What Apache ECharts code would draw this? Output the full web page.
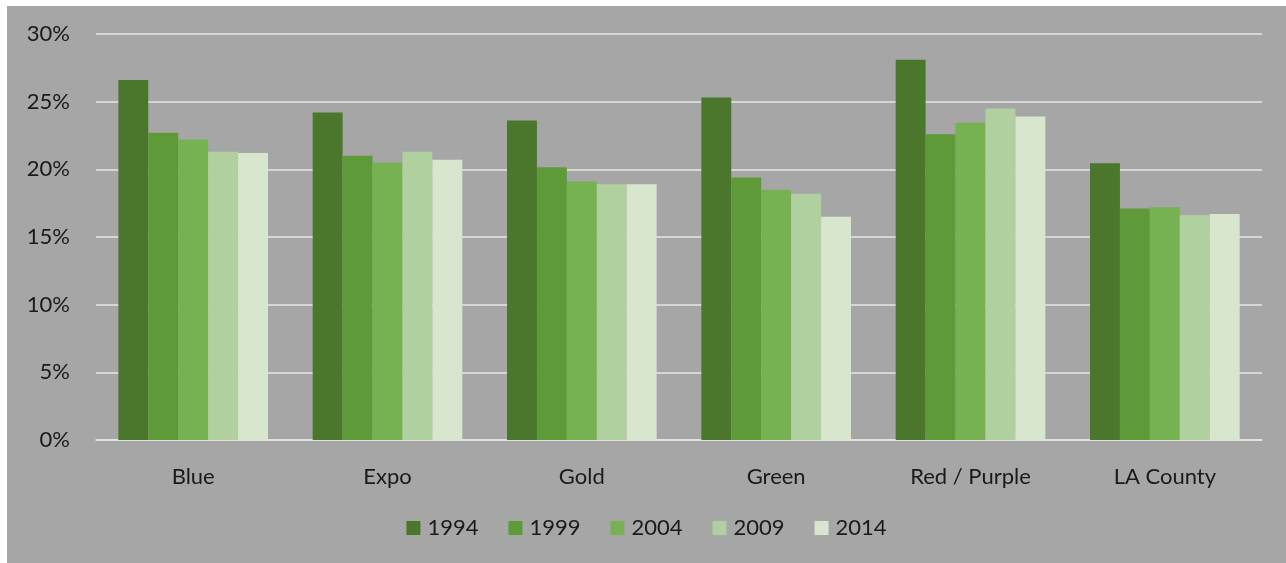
<!DOCTYPE html>
<html>
<head>
<meta charset="utf-8">
<script src="https://cdn.jsdelivr.net/npm/echarts@6/dist/echarts.min.js"></script>
<style>
html,body{margin:0;padding:0;background:#ffffff;width:1286px;height:563px;overflow:hidden;}
#chart{position:absolute;left:7px;top:6px;width:1279px;height:557px;}
</style>
</head>
<body>
<div id="chart"></div>
<script>
const categories = ['Blue', 'Expo', 'Gold', 'Green', 'Red / Purple', 'LA County'];
const years = ['1994', '1999', '2004', '2009', '2014'];
const v1994 = [26.6, 24.2, 23.6, 25.3, 28.1, 20.45];
const v1999 = [22.7, 21.0, 20.15, 19.4, 22.6, 17.1];
const v2004 = [22.2, 20.5, 19.1, 18.5, 23.45, 17.2];
const v2009 = [21.3, 21.3, 18.9, 18.2, 24.5, 16.6];
const v2014 = [21.2, 20.7, 18.9, 16.5, 23.9, 16.7];
const yTicks = [0, 5, 10, 15, 20, 25, 30];

const seriesValues = [v1994, v1999, v2004, v2009, v2014];
const colors = ['#4a772b', '#5f9a38', '#76b152', '#b1d09f', '#d7e6cc'];
const font = 'Lato, "Liberation Sans", sans-serif';

const chart = echarts.init(document.getElementById('chart'));
chart.setOption({
  backgroundColor: '#a6a6a6',
  animation: false,
  color: colors,
  grid: { left: 89, right: 24, top: 28, bottom: 123 },
  legend: {
    bottom: 19,
    left: 'center',
    itemWidth: 14,
    itemHeight: 14,
    itemGap: 30,
    icon: 'rect',
    textStyle: { color: '#1a1a1a', fontSize: 22, fontFamily: font, padding: [0, 0, 0, 2] },
    data: years
  },
  xAxis: {
    type: 'category',
    data: categories,
    axisLine: { show: true, lineStyle: { color: '#e6e6e6', width: 1.5 } },
    axisTick: { show: false },
    axisLabel: { color: '#1a1a1a', fontSize: 22, fontFamily: font, margin: 26 }
  },
  yAxis: {
    type: 'value',
    min: yTicks[0],
    max: yTicks[yTicks.length - 1],
    interval: 5,
    axisLine: { show: false },
    axisTick: { show: false },
    splitLine: { lineStyle: { color: '#e6e6e6', width: 1.5 } },
    axisLabel: { color: '#1a1a1a', fontSize: 22, fontFamily: font, margin: 26, formatter: v => v + '%' }
  },
  series: years.map((y, i) => ({
    name: y,
    type: 'bar',
    data: seriesValues[i],
    barGap: '0%',
    barCategoryGap: '23%'
  }))
});
</script>
</body>
</html>
